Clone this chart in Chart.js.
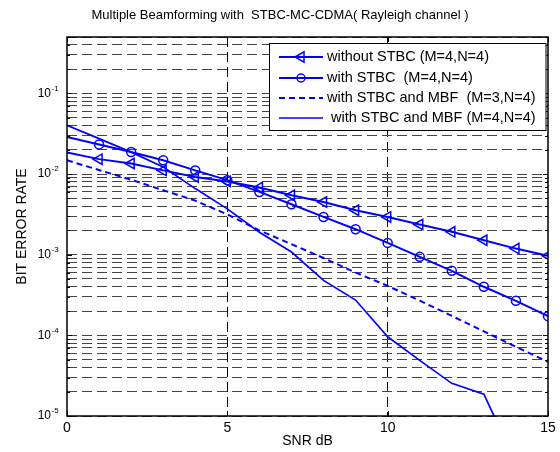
<!DOCTYPE html>
<html>
<head>
<meta charset="utf-8">
<script src="https://cdn.jsdelivr.net/npm/chart.js@4.4.0/dist/chart.umd.min.js"></script>
<style>
  html, body { margin: 0; padding: 0; background: #fff; }
  #wrap { width: 560px; height: 452px; }
</style>
</head>
<body>
<div id="wrap"><canvas id="berChart" width="560" height="452"></canvas></div>
<script>
// SNR in dB
const snr = [0, 1, 2, 3, 4, 5, 6, 7, 8, 9, 10, 11, 12, 13, 14, 15];

// bit error rates
const berNoStbc = [0.0185, 0.0153, 0.0135, 0.0111, 0.0092, 0.0081, 0.0068, 0.00546,
  0.00451, 0.00356, 0.00294, 0.00237, 0.00192, 0.00151, 0.00119, 0.00097];
const berStbc = [0.0288, 0.0233, 0.0188, 0.0148, 0.0111, 0.0084, 0.0060, 0.00422,
  0.00294, 0.00207, 0.0014, 0.00094, 0.00063, 0.0004, 0.000268, 0.000173];
const berMbf3 = [0.0148, 0.0112, 0.0085, 0.0063, 0.00468, 0.00316, 0.0020, 0.00135,
  0.00091, 0.0006, 0.00041, 0.00027, 0.000174, 0.000112, 0.000072, 0.000047];
const berMbf4 = [0.0402, 0.0275, 0.0187, 0.0122, 0.0066, 0.0037, 0.0019, 0.00108,
  0.00048, 0.000274, 0.000096, 0.000049, 0.0000254, 0.0000187, 0.0000026, null];

const seriesLabels = [
  'without STBC (M=4,N=4)',
  'with STBC  (M=4,N=4)',
  'with STBC and MBF  (M=3,N=4)',
  ' with STBC and MBF (M=4,N=4)'
];

const xTicks = [0, 5, 10, 15];
const yDecades = [1e-5, 1e-4, 1e-3, 1e-2, 1e-1];
const yDecadeLabels = ['-5', '-4', '-3', '-2', '-1'];

// grid lines at 1..9 x 10^n, up to the top of the axis (0.5)
const yGridValues = [];
yDecades.forEach(d => {
  for (let m = 1; m <= 9; m++) {
    const v = +(m * d).toPrecision(3);
    if (v <= 0.5) yGridValues.push(v);
  }
});

const FONT = "'Liberation Sans', Arial, Helvetica, sans-serif";
const BLUE = '#0000ff';

const matlabFrame = {
  id: 'matlabFrame',
  afterDraw(chart) {
    const { ctx, chartArea: a, scales: { x, y } } = chart;
    ctx.save();

    // tick marks, inside the box
    ctx.strokeStyle = '#000';
    ctx.lineWidth = 1;
    ctx.setLineDash([]);
    ctx.beginPath();
    yGridValues.forEach(v => {
      const py = Math.round(y.getPixelForValue(v)) + 0.5;
      const len = yDecades.includes(v) ? 5 : 3;
      ctx.moveTo(a.left, py); ctx.lineTo(a.left + len, py);
      ctx.moveTo(a.right, py); ctx.lineTo(a.right - len, py);
    });
    xTicks.forEach(v => {
      const px = Math.round(x.getPixelForValue(v)) + 0.5;
      ctx.moveTo(px, a.bottom); ctx.lineTo(px, a.bottom - 5);
      ctx.moveTo(px, a.top); ctx.lineTo(px, a.top + 5);
    });
    ctx.stroke();

    ctx.lineWidth = 1.5;
    ctx.strokeRect(a.left, a.top, a.right - a.left, a.bottom - a.top);

    // y tick labels 10^n
    ctx.fillStyle = '#000';
    ctx.textBaseline = 'middle';
    yDecades.forEach((v, i) => {
      const py = y.getPixelForValue(v);
      ctx.font = '12px ' + FONT;
      ctx.textAlign = 'right';
      ctx.fillText('10', 51, py);
      ctx.font = '8px ' + FONT;
      ctx.textAlign = 'left';
      ctx.fillText(yDecadeLabels[i], 51.5, py - 5);
    });

    // title and axis titles
    ctx.font = '13px ' + FONT;
    ctx.textAlign = 'center';
    ctx.fillText('Multiple Beamforming with  STBC-MC-CDMA( Rayleigh channel )', 280, 15);
    ctx.font = '14px ' + FONT;
    ctx.fillText('SNR dB', (a.left + a.right) / 2, 441);
    ctx.save();
    ctx.translate(22, (a.top + a.bottom) / 2);
    ctx.rotate(-Math.PI / 2);
    ctx.fillText('BIT ERROR RATE', 0, 0);
    ctx.restore();

    // legend box
    const lx = 269.5, ly = 43.5, lw = 276.5, lh = 87;
    ctx.fillStyle = '#fff';
    ctx.fillRect(lx, ly, lw, lh);
    ctx.strokeStyle = '#000';
    ctx.lineWidth = 1;
    ctx.strokeRect(lx, ly, lw, lh);
    const rows = [57, 78, 98, 118];
    chart.data.datasets.forEach((ds, i) => {
      const ry = rows[i];
      ctx.strokeStyle = BLUE;
      ctx.lineWidth = ds.borderWidth;
      ctx.setLineDash(ds.borderDash || []);
      ctx.beginPath();
      ctx.moveTo(279, ry); ctx.lineTo(323, ry);
      ctx.stroke();
      ctx.setLineDash([]);
      ctx.lineWidth = 1.5;
      if (ds.pointStyle === 'triangle') {
        const r = 6, cx = 301;
        let rad = -Math.PI / 2;
        ctx.beginPath();
        for (let k = 0; k < 3; k++) {
          const px = cx + Math.sin(rad) * r, py = ry - Math.cos(rad) * r;
          if (k === 0) ctx.moveTo(px, py); else ctx.lineTo(px, py);
          rad += 2 * Math.PI / 3;
        }
        ctx.closePath();
        ctx.stroke();
      } else if (ds.pointStyle === 'circle') {
        ctx.beginPath();
        ctx.arc(301, ry, 4, 0, 2 * Math.PI);
        ctx.stroke();
      }
      ctx.fillStyle = '#000';
      ctx.font = '14.5px ' + FONT;
      ctx.textAlign = 'left';
      ctx.textBaseline = 'middle';
      ctx.fillText(ds.label, 327, ry);
    });
    ctx.restore();
  }
};

const markerRadius = (r) => snr.map((v, i) => (i === 0 ? 0 : r));

new Chart(document.getElementById('berChart'), {
  type: 'line',
  data: {
    labels: snr,
    datasets: [
      {
        label: seriesLabels[0],
        data: berNoStbc,
        borderColor: BLUE,
        borderWidth: 2,
        pointStyle: 'triangle',
        rotation: -90,
        pointRadius: markerRadius(6),
        pointBorderWidth: 1.5,
        pointBorderColor: BLUE,
        pointBackgroundColor: 'rgba(0,0,0,0)',
      },
      {
        label: seriesLabels[1],
        data: berStbc,
        borderColor: BLUE,
        borderWidth: 2,
        pointStyle: 'circle',
        pointRadius: markerRadius(4.5),
        pointBorderWidth: 1.5,
        pointBorderColor: BLUE,
        pointBackgroundColor: 'rgba(0,0,0,0)',
      },
      {
        label: seriesLabels[2],
        data: berMbf3,
        borderColor: BLUE,
        borderWidth: 2,
        borderDash: [6, 4],
        pointRadius: 0,
      },
      {
        label: seriesLabels[3],
        data: berMbf4,
        borderColor: BLUE,
        borderWidth: 1.7,
        pointRadius: 0,
      },
    ],
  },
  options: {
    responsive: false,
    animation: false,
    events: [],
    layout: { padding: { top: 37, right: 12, bottom: 0, left: 0 } },
    plugins: {
      legend: { display: false },
      title: { display: false },
      tooltip: { enabled: false },
    },
    scales: {
      x: {
        type: 'linear',
        min: 0,
        max: 15,
        afterBuildTicks: (scale) => { scale.ticks = xTicks.map(v => ({ value: v })); },
        afterFit: (scale) => { scale.height = 36; },
        ticks: { color: '#000', font: { family: FONT, size: 14 }, padding: 4, maxRotation: 0 },
        grid: {
          drawTicks: false,
          color: (c) => (c.tick && (c.tick.value === 5 || c.tick.value === 10) ? '#000' : 'rgba(0,0,0,0)'),
          lineWidth: 1,
        },
        border: { display: false, dash: [10, 5] },
      },
      y: {
        type: 'logarithmic',
        min: 1e-5,
        max: 0.5,
        afterBuildTicks: (scale) => { scale.ticks = yGridValues.map(v => ({ value: v })); },
        afterFit: (scale) => { scale.width = 67; },
        ticks: { display: false },
        grid: { drawTicks: false, color: '#444', lineWidth: 1 },
        border: { display: false, dash: [10, 5] },
      },
    },
  },
  plugins: [matlabFrame],
});
</script>
</body>
</html>
